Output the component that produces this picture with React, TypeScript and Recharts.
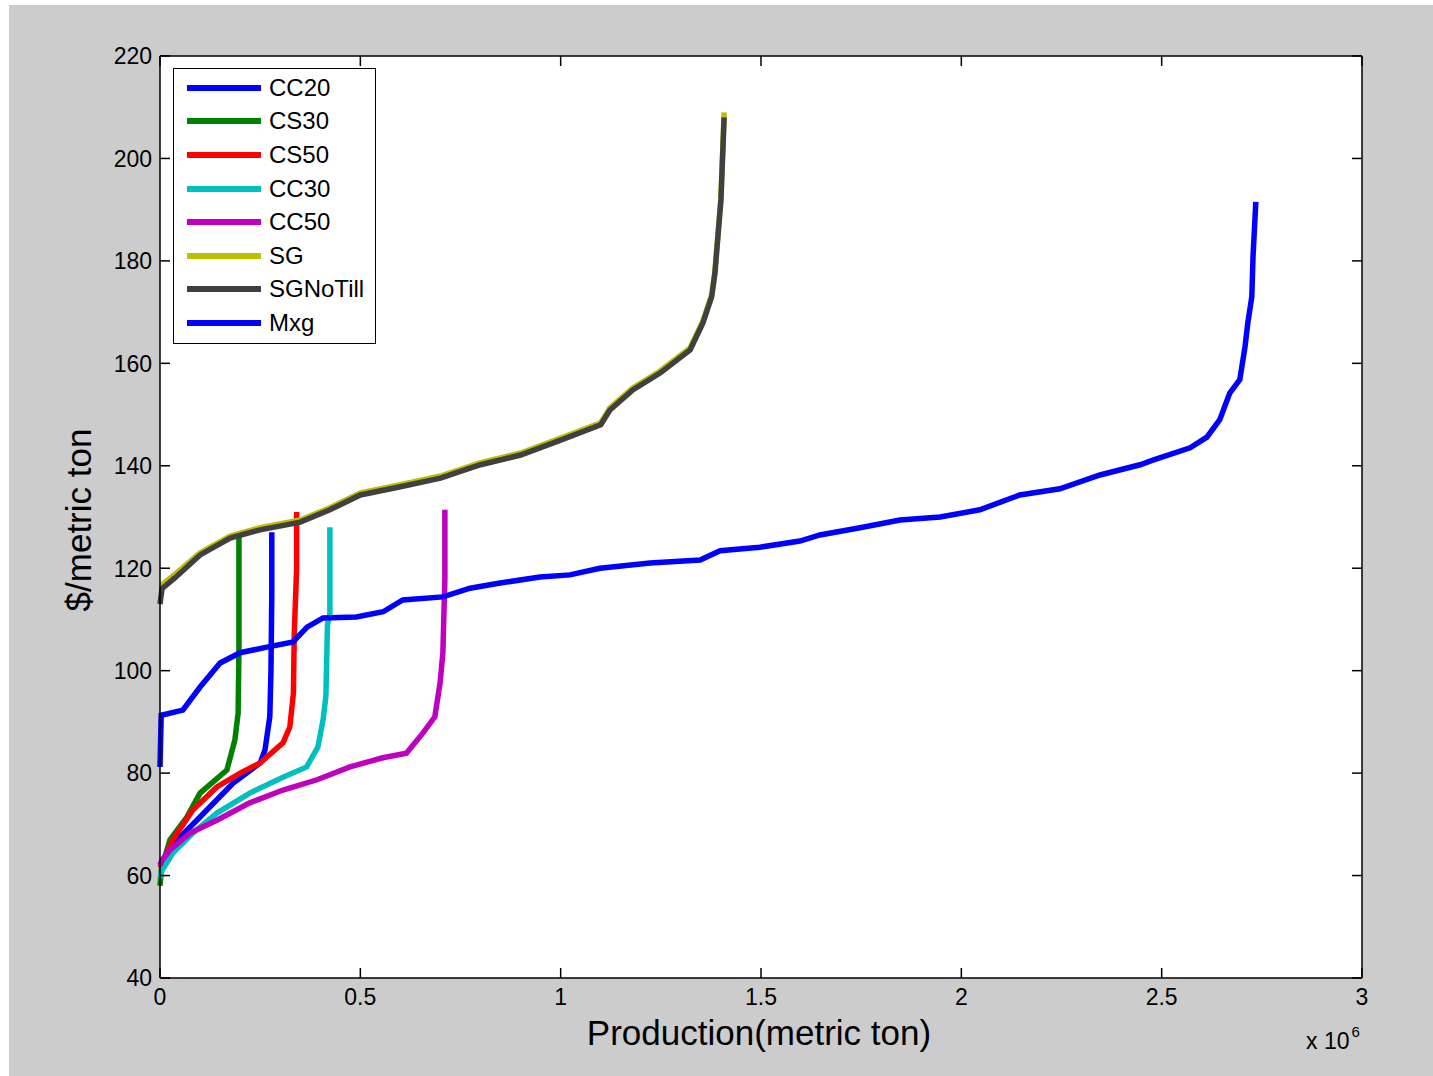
import React from 'react';
import { LineChart, Line, XAxis, YAxis, CartesianGrid, Legend, Label } from 'recharts';

// production in units of 10^6 metric ton, cost in $/metric ton
const cc20X = [0, 0.007, 0.05, 0.092, 0.142, 0.182, 0.25, 0.262, 0.274, 0.277, 0.279, 0.279];
const cc20Y = [62, 63, 67.5, 70.8, 74.8, 78, 82, 84.5, 91, 100, 115, 127];

const cs30X = [0, 0.004, 0.025, 0.067, 0.1, 0.167, 0.187, 0.195, 0.197, 0.197];
const cs30Y = [58, 61.5, 67, 71.4, 76.1, 80.6, 86.5, 91.7, 104, 127];

const cs50X = [0, 0.007, 0.032, 0.082, 0.142, 0.2, 0.25, 0.307, 0.324, 0.333, 0.335, 0.341, 0.341];
const cs50Y = [61.5, 62.5, 67, 72.8, 77.3, 80, 82, 85.9, 89, 95.6, 107, 120, 131];

const cc30X = [0, 0.005, 0.032, 0.082, 0.142, 0.224, 0.307, 0.366, 0.394, 0.407, 0.414, 0.418, 0.424, 0.424];
const cc30Y = [59.5, 61, 64.4, 68.3, 72.2, 76.1, 79.2, 81.2, 85.1, 90.4, 95, 109, 111, 128];

const cc50X = [0, 0.005, 0.025, 0.075, 0.142, 0.224, 0.307, 0.392, 0.474, 0.556, 0.615, 0.656, 0.686, 0.699, 0.706, 0.711, 0.711];
const cc50Y = [62, 63, 65, 68.3, 70.8, 74.2, 76.7, 78.7, 81.2, 83, 83.9, 87.8, 91, 97.6, 103.5, 118, 131.4];

const sgX = [0, 0.037, 0.1, 0.175, 0.25, 0.35, 0.424, 0.5, 0.6, 0.7, 0.8, 0.9, 1.0, 1.1, 1.123, 1.18, 1.248, 1.323, 1.355, 1.377, 1.385, 1.4, 1.408];
const sgY = [116.5, 118.8, 123, 126.3, 127.9, 129.4, 131.8, 134.7, 136.3, 138, 140.6, 142.5, 145.4, 148.4, 151.3, 155.2, 158.5, 163, 168.3, 173.4, 178, 192.3, 209];

const sgNoTillX = [0, 0.005, 0.037, 0.1, 0.175, 0.25, 0.35, 0.424, 0.5, 0.6, 0.7, 0.8, 0.9, 1.0, 1.1, 1.123, 1.18, 1.248, 1.323, 1.355, 1.377, 1.385, 1.4, 1.408];
const sgNoTillY = [113, 116, 118.1, 122.6, 125.9, 127.5, 129, 131.4, 134.3, 135.9, 137.6, 140.2, 142.1, 145, 148, 150.9, 154.8, 158.1, 162.6, 167.9, 173, 177.6, 191.9, 208];

const mxgX = [0, 0.003, 0.057, 0.1, 0.15, 0.2, 0.267, 0.332, 0.367, 0.407, 0.49, 0.557, 0.606, 0.706, 0.774, 0.849, 0.948, 1.023, 1.098, 1.223, 1.348, 1.398, 1.497, 1.597, 1.647, 1.747, 1.847, 1.947, 2.046, 2.146, 2.246, 2.346, 2.446, 2.478, 2.571, 2.613, 2.645, 2.67, 2.695, 2.708, 2.715, 2.725, 2.728, 2.735];
const mxgY = [81.2, 91.3, 92.3, 96.8, 101.5, 103.5, 104.6, 105.6, 108.5, 110.3, 110.5, 111.5, 113.8, 114.4, 116.1, 117.1, 118.3, 118.7, 120, 121, 121.6, 123.4, 124.1, 125.3, 126.5, 127.9, 129.4, 130, 131.4, 134.3, 135.5, 138.2, 140.2, 141.1, 143.5, 145.6, 149, 154.2, 156.8, 163.2, 167.9, 173, 180.8, 191.5];

const xTicks = [0, 0.5, 1, 1.5, 2, 2.5, 3];
const yTicks = [40, 60, 80, 100, 120, 140, 160, 180, 200, 220];

const zip = (xs: number[], ys: number[]) => xs.map((x, i) => ({ x, y: ys[i] }));

// Mxg sits on the top/right axes (same domains) so that the box axes get drawn
const series = [
  { name: 'CC20', color: '#0000ff', data: zip(cc20X, cc20Y), xId: 0, yId: 0 },
  { name: 'CS30', color: '#008000', data: zip(cs30X, cs30Y), xId: 0, yId: 0 },
  { name: 'CS50', color: '#ff0000', data: zip(cs50X, cs50Y), xId: 0, yId: 0 },
  { name: 'CC30', color: '#00bfbf', data: zip(cc30X, cc30Y), xId: 0, yId: 0 },
  { name: 'CC50', color: '#bf00bf', data: zip(cc50X, cc50Y), xId: 0, yId: 0 },
  { name: 'SG', color: '#bfbf00', data: zip(sgX, sgY), xId: 0, yId: 0 },
  { name: 'SGNoTill', color: '#404040', data: zip(sgNoTillX, sgNoTillY), xId: 0, yId: 0 },
  { name: 'Mxg', color: '#0000ff', data: zip(mxgX, mxgY), xId: 'top', yId: 'right' },
];
const order = series.map((s) => s.name);

const FONT = '"Liberation Sans", Arial, sans-serif';
const TICK = 10;
const GAP = 10;

// matlab-style ticks pointing into the plot
const BottomTick = (p: any) => (
  <g>
    <line x1={p.x} x2={p.x} y1={p.y - GAP} y2={p.y - GAP - TICK} stroke="#000" strokeWidth={1.5} />
    <text x={p.x} y={p.y} dy="0.72em" textAnchor="middle" fontSize={23} fontFamily={FONT} fill="#000">{p.payload.value}</text>
  </g>
);
const LeftTick = (p: any) => (
  <g>
    <line x1={p.x + 8} x2={p.x + 8 + TICK} y1={p.y} y2={p.y} stroke="#000" strokeWidth={1.5} />
    <text x={p.x} y={p.y} dy="0.36em" textAnchor="end" fontSize={23} fontFamily={FONT} fill="#000">{p.payload.value}</text>
  </g>
);
const TopTick = (p: any) => <line x1={p.x} x2={p.x} y1={p.y} y2={p.y + TICK} stroke="#000" strokeWidth={1.5} />;
const RightTick = (p: any) => <line x1={p.x} x2={p.x - TICK} y1={p.y} y2={p.y} stroke="#000" strokeWidth={1.5} />;

const LegendBox = (props: any) => {
  const items = [...(props.payload || [])].sort((a: any, b: any) => order.indexOf(a.value) - order.indexOf(b.value));
  return (
    <div style={{ border: '1.5px solid #000', background: '#fff', width: 203, height: 276, boxSizing: 'border-box', paddingTop: 2, fontFamily: FONT }}>
      {items.map((it: any) => (
        <div key={it.value} style={{ height: 33.6, display: 'flex', alignItems: 'center' }}>
          <span style={{ display: 'inline-block', width: 74, height: 6, marginLeft: 13, background: it.color }} />
          <span style={{ marginLeft: 8, fontSize: 24, color: '#000' }}>{it.value}</span>
        </div>
      ))}
    </div>
  );
};

const axisLine = { stroke: '#000', strokeWidth: 1.5 };

export default function App() {
  return (
    <div style={{ position: 'absolute', left: 0, top: 0, width: 1433, height: 1076, background: '#fff' }}>
      <div style={{ position: 'absolute', left: 9, top: 5, width: 1424, height: 1071, background: '#cccccc' }}>
        <LineChart width={1424} height={1071} margin={{ top: 50, right: 70, bottom: 58, left: 91 }}>
          <CartesianGrid horizontal={false} vertical={false} fill="#fff" />
          <XAxis
            type="number"
            dataKey="x"
            domain={[0, 3]}
            ticks={xTicks}
            interval={0}
            height={40}
            tickSize={0}
            tickMargin={GAP}
            tick={<BottomTick />}
            tickLine={false}
            axisLine={axisLine}
          >
            <Label
              content={(p: any) => {
                const vb = p.viewBox;
                return (
                  <text x={vb.x + vb.width / 2 - 2} y={vb.y + 67} textAnchor="middle" fontSize={35} fontFamily={FONT} fill="#000">
                    Production(metric ton)
                  </text>
                );
              }}
            />
          </XAxis>
          <XAxis
            xAxisId="top"
            orientation="top"
            type="number"
            dataKey="x"
            domain={[0, 3]}
            ticks={xTicks}
            interval={0}
            height={1}
            tickSize={0}
            tickMargin={0}
            tick={<TopTick />}
            tickLine={false}
            axisLine={axisLine}
          />
          <YAxis
            type="number"
            domain={[40, 220]}
            ticks={yTicks}
            interval={0}
            width={60}
            tickSize={0}
            tickMargin={8}
            tick={<LeftTick />}
            tickLine={false}
            axisLine={axisLine}
          >
            <Label
              content={(p: any) => {
                const vb = p.viewBox;
                const cx = vb.x + vb.width - 69;
                const cy = vb.y + vb.height / 2 + 3;
                return (
                  <text x={cx} y={cy} transform={`rotate(-90 ${cx} ${cy})`} textAnchor="middle" fontSize={35} fontFamily={FONT} fill="#000">
                    $/metric ton
                  </text>
                );
              }}
            />
          </YAxis>
          <YAxis
            yAxisId="right"
            orientation="right"
            type="number"
            domain={[40, 220]}
            ticks={yTicks}
            interval={0}
            width={1}
            tickSize={0}
            tickMargin={0}
            tick={<RightTick />}
            tickLine={false}
            axisLine={axisLine}
          />
          <Legend
            layout="vertical"
            align="center"
            verticalAlign="middle"
            wrapperStyle={{ left: 164, top: 63, width: 203, height: 276 }}
            content={<LegendBox />}
          />
          {series.map((s) => (
            <Line
              key={s.name}
              name={s.name}
              data={s.data}
              xAxisId={s.xId}
              yAxisId={s.yId}
              dataKey="y"
              type="linear"
              stroke={s.color}
              strokeWidth={5.5}
              dot={false}
              activeDot={false}
              isAnimationActive={false}
            />
          ))}
        </LineChart>
        <div style={{ position: 'absolute', left: 1297, top: 1023, fontFamily: FONT, fontSize: 23, color: '#000', whiteSpace: 'nowrap' }}>
          x 10<span style={{ fontSize: 15, position: 'relative', top: -12, marginLeft: 2 }}>6</span>
        </div>
      </div>
    </div>
  );
}
